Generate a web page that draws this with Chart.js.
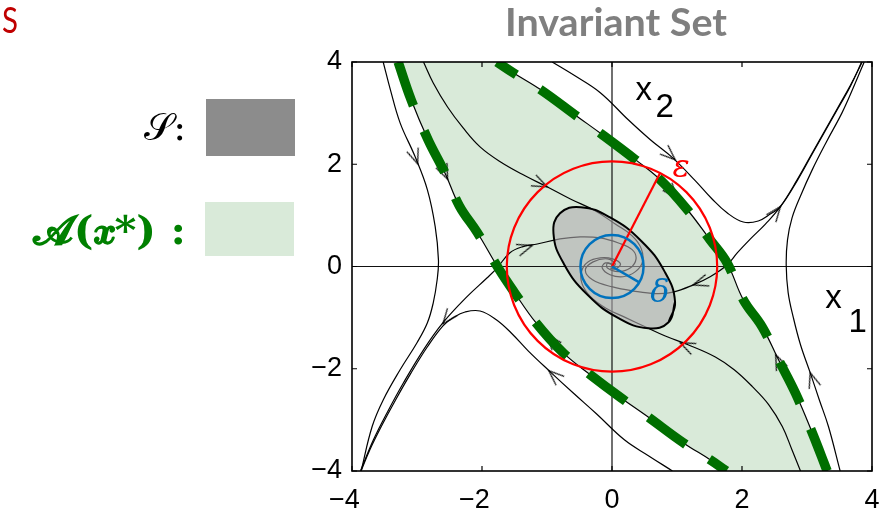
<!DOCTYPE html>
<html><head><meta charset="utf-8">
<script src="https://cdn.jsdelivr.net/npm/chart.js@4/dist/chart.umd.min.js"></script>
<style>html,body{margin:0;padding:0;background:#fff;}canvas{display:block;}</style>
</head><body>
<canvas id="c" width="895" height="513"></canvas>
<script>
// ---------- data ----------
const xTicks = [-4, -2, 0, 2, 4];
const yTicks = [-4, -2, 0, 2, 4];

// separatrices (boundary of the region of attraction)
const sepRightX = [-1.77,-1.52,-1.10,-0.53,-0.15,0.36,0.74,1.16,1.51,1.77,2.02,2.31,2.56,2.82,3.08,3.31];
const sepRightY = [4.00,3.79,3.46,2.93,2.58,2.09,1.70,1.11,0.52,0.07,-0.65,-1.18,-1.82,-2.47,-3.25,-4.00];
const sepLeftX  = [-3.29,-3.09,-2.83,-2.57,-2.35,-2.07,-1.75,-1.50,-1.17,-0.75,-0.33,0.14,0.53,1.10,1.51,1.76];
const sepLeftY  = [4.00,3.26,2.48,1.83,1.19,0.66,-0.03,-0.51,-1.10,-1.69,-2.12,-2.57,-2.92,-3.45,-3.78,-4.00];

// trajectories
const farLeftX  = [-3.52,-3.41,-3.26,-3.03,-2.84,-2.72,-2.67,-2.69,-2.75,-2.84,-3.00,-3.26,-3.52,-3.69,-3.86];
const farLeftY  = [4.00,3.46,2.81,2.15,1.50,0.78,0.13,-0.26,-0.71,-1.10,-1.49,-2.02,-2.61,-3.13,-4.00];
const farRightX = [3.51,3.33,3.19,3.05,2.90,2.79,2.71,2.68,2.70,2.77,2.90,3.08,3.30,3.54,3.71,3.88];
const farRightY = [-4.00,-3.13,-2.61,-2.08,-1.53,-1.00,-0.51,0.03,0.52,0.95,1.38,1.89,2.44,3.01,3.49,4.00];
const leftManX  = [-3.87,-3.67,-3.46,-3.21,-2.90,-2.60,-2.23,-1.92,-1.77,-1.57,-1.37,-1.15,-0.80,-0.49,-0.18,0.10,0.31,0.37,0.28,0.10,-0.07,-0.07,0.00];
const leftManY  = [-4.00,-3.39,-2.86,-2.28,-1.63,-1.10,-0.59,-0.22,-0.03,0.27,0.39,0.44,0.54,0.58,0.56,0.46,0.33,0.15,-0.03,-0.10,-0.03,0.07,0.05];
const rightManX = [3.85,3.67,3.48,3.28,3.08,2.85,2.59,2.36,2.13,1.93,1.77,1.51,1.25,0.94,0.67,0.33,0.01,-0.30,-0.41,-0.29,-0.07,0.05,0.01];
const rightManY = [4.00,3.55,3.12,2.67,2.22,1.70,1.17,0.83,0.54,0.27,0.03,-0.20,-0.36,-0.50,-0.53,-0.48,-0.40,-0.26,-0.07,0.09,0.15,0.05,-0.01];
const upperOrbitX = [-0.92,-0.57,-0.18,0.25,0.59,0.93,1.28,1.54,1.77,2.02,2.25,2.44,2.59,2.85,3.08,3.28,3.48,3.67,3.84];
const upperOrbitY = [4.00,3.73,3.40,2.87,2.48,2.13,1.68,1.32,1.05,0.87,0.89,1.03,1.17,1.68,2.20,2.65,3.10,3.53,4.00];
const lowerOrbitX = [0.93,0.56,0.19,-0.24,-0.60,-0.95,-1.29,-1.55,-1.78,-2.03,-2.26,-2.44,-2.60,-2.84,-3.10,-3.33,-3.55,-3.72,-3.86];
const lowerOrbitY = [-4.00,-3.70,-3.39,-2.88,-2.47,-2.06,-1.65,-1.30,-1.04,-0.87,-0.89,-1.00,-1.16,-1.57,-2.10,-2.61,-3.13,-3.57,-4.00];
const upperInnerX = [-2.90,-2.75,-2.53,-2.29,-2.03,-1.72,-1.33,-1.00,-0.64,-0.26,0.05,0.31,0.45,0.47,0.36,0.17,-0.03,-0.15,-0.10,0.02];
const upperInnerY = [4.00,3.59,3.12,2.71,2.34,2.05,1.77,1.56,1.32,1.09,0.83,0.60,0.35,0.09,-0.10,-0.20,-0.16,-0.03,0.07,0.03];
const lowerInnerX = [2.90,2.77,2.62,2.41,2.16,1.88,1.59,1.17,0.82,0.51,0.21,-0.10,-0.33,-0.46,-0.47,-0.37,-0.18,0.01,0.13,0.05,-0.03];
const lowerInnerY = [-4.00,-3.59,-3.13,-2.70,-2.35,-2.02,-1.77,-1.53,-1.36,-1.18,-1.00,-0.81,-0.59,-0.34,-0.10,0.09,0.17,0.15,0.05,-0.05,-0.03];

// arrow heads on the trajectories (tip position, direction in screen degrees)
const arrowX     = [-2.99,-2.53,-1.00,-1.23,1.00,0.97,2.59,1.25,3.05,2.52,1.05,-0.97,-1.00,-2.60];
const arrowY     = [2.01,1.71,1.56,0.41,1.34,2.09,1.17,-0.36,-2.08,-1.73,-1.49,-2.04,-1.34,-1.12];
const arrowAngle = [70,66,25,-18,50,42,-52,162,-108,-114,-155,-138,-130,128];

// invariant set S (ellipse boundary)
const ellipseX = [0.87,0.97,0.81,0.45,-0.03,-0.48,-0.80,-0.90,-0.74,-0.38,0.10,0.56,0.87,0.97];
const ellipseY = [-1.09,-0.69,-0.10,0.50,0.96,1.16,1.04,0.64,0.05,-0.55,-1.01,-1.21,-1.09,-0.69];

// equilibrium, epsilon and delta radii
const origin = [0, 0];
const epsEnd = [0.74, 1.83];
const deltaEnd = [0.42, -0.31];

// ---------- helpers ----------
const pts = (xs, ys) => xs.map((x, i) => ({x: x, y: ys[i]}));
const base = {type: 'line', borderColor: '#000', borderWidth: 1.2, pointRadius: 0, tension: 0.4, fill: false, clip: 0};
const line = (xs, ys, extra) => Object.assign({}, base, {data: pts(xs, ys)}, extra || {});

const arrowImg = (() => {
  const c = document.createElement('canvas'); c.width = 32; c.height = 32;
  const g = c.getContext('2d');
  g.strokeStyle = '#000'; g.lineWidth = 1.3; g.lineJoin = 'miter';
  g.beginPath(); g.moveTo(16 - 15, 16 - 6); g.lineTo(16, 16); g.lineTo(16 - 15, 16 + 6); g.stroke();
  return c;
})();

function radiusTo(end) {
  return ctx => {
    const s = ctx.chart.scales;
    if (!s || !s.x || !s.y) return 0;
    const dx = s.x.getPixelForValue(end[0]) - s.x.getPixelForValue(origin[0]);
    const dy = s.y.getPixelForValue(end[1]) - s.y.getPixelForValue(origin[1]);
    return Math.hypot(dx, dy);
  };
}

const fillX = sepRightX.concat(sepLeftX.slice().reverse());
const fillY = sepRightY.concat(sepLeftY.slice().reverse());
const xMin = xTicks[0], xMax = xTicks[xTicks.length - 1];
const yMin = yTicks[0], yMax = yTicks[yTicks.length - 1];

const GREEN = '#006f00';
const datasets = [
  line(fillX, fillY, {fill: 'shape', backgroundColor: '#d9ead9', borderColor: 'rgba(0,0,0,0)', borderWidth: 0, order: 100}),
  line([xMin, xMax], [0, 0], {tension: 0, borderColor: '#111', borderWidth: 1.2, order: 90}),
  line([0, 0], [yMin, yMax], {tension: 0, borderColor: '#111', borderWidth: 1.2, order: 90}),
  line(sepRightX, sepRightY, {order: 80}),
  line(sepLeftX, sepLeftY, {order: 80}),
  line(farLeftX, farLeftY, {order: 80}),
  line(farRightX, farRightY, {order: 80}),
  line(leftManX, leftManY, {order: 80}),
  line(rightManX, rightManY, {order: 80}),
  line(upperOrbitX, upperOrbitY, {order: 80}),
  line(lowerOrbitX, lowerOrbitY, {order: 80}),
  line(upperInnerX, upperInnerY, {order: 80}),
  line(lowerInnerX, lowerInnerY, {order: 80}),
  Object.assign({}, base, {data: pts(arrowX, arrowY), showLine: false, pointRadius: 10, pointStyle: arrowImg, pointRotation: arrowAngle, order: 75}),
  line(ellipseX, ellipseY, {fill: 'shape', backgroundColor: 'rgba(175,171,175,0.6)', borderColor: '#000', borderWidth: 2, tension: 0.45, order: 60}),
  line(sepLeftX, sepLeftY, {borderColor: GREEN, borderWidth: 9.5, borderDash: [46, 28], borderDashOffset: 0, borderCapStyle: 'butt', order: 50}),
  line(sepRightX, sepRightY, {borderColor: GREEN, borderWidth: 9.5, borderDash: [46, 28], borderDashOffset: 23, borderCapStyle: 'butt', order: 50}),
  Object.assign({}, base, {data: [{x: origin[0], y: origin[1]}], showLine: false, pointStyle: 'circle', pointRadius: radiusTo(epsEnd), pointBorderColor: '#ff0000', pointBackgroundColor: 'rgba(0,0,0,0)', pointBorderWidth: 2.2, order: 40}),
  line([origin[0], epsEnd[0]], [origin[1], epsEnd[1]], {tension: 0, borderColor: '#ff0000', borderWidth: 2.2, order: 40}),
  Object.assign({}, base, {data: [{x: origin[0], y: origin[1]}], showLine: false, pointStyle: 'circle', pointRadius: radiusTo(deltaEnd), pointBorderColor: '#0072bd', pointBackgroundColor: 'rgba(0,0,0,0)', pointBorderWidth: 2.5, order: 30}),
  line([origin[0], deltaEnd[0]], [origin[1], deltaEnd[1]], {tension: 0, borderColor: '#0072bd', borderWidth: 2.5, order: 30})
];

const TICK_FONT = {family: '"Liberation Sans", Arial, sans-serif', size: 27};
const minus = v => v < 0 ? '\u2212' + (-v) : String(v);

const decor = {
  id: 'decor',
  afterDraw(chart) {
    const ctx = chart.ctx, a = chart.chartArea, sx = chart.scales.x, sy = chart.scales.y;
    ctx.save();
    // frame
    ctx.strokeStyle = '#000'; ctx.lineWidth = 1.6;
    ctx.strokeRect(a.left, a.top, a.right - a.left, a.bottom - a.top);
    // inward ticks on all sides
    ctx.lineWidth = 1.2;
    ctx.beginPath();
    xTicks.forEach(v => { const p = sx.getPixelForValue(v); ctx.moveTo(p, a.bottom); ctx.lineTo(p, a.bottom - 5); ctx.moveTo(p, a.top); ctx.lineTo(p, a.top + 5); });
    yTicks.forEach(v => { const p = sy.getPixelForValue(v); ctx.moveTo(a.left, p); ctx.lineTo(a.left + 5, p); ctx.moveTo(a.right, p); ctx.lineTo(a.right - 5, p); });
    ctx.stroke();

    function scaled(txt, font, color, x, y, w, align) {
      ctx.save(); ctx.font = font; ctx.fillStyle = color; ctx.textAlign = 'left'; ctx.textBaseline = 'alphabetic';
      const m = ctx.measureText(txt).width, k = w / m;
      const x0 = align === 'center' ? x - w / 2 : (align === 'right' ? x - w : x);
      ctx.translate(x0, y); ctx.scale(k, 1); ctx.fillText(txt, 0, 0); ctx.restore();
    }
    // title and corner letter
    scaled('Invariant Set', 'bold 39px Lato, "Open Sans", sans-serif', '#7f7f7f', 616, 36, 222, 'center');
    scaled('S', '36px Lato, "Open Sans", sans-serif', '#c00000', 2, 33, 16, 'left');

    // legend
    ctx.fillStyle = '#8c8c8c'; ctx.fillRect(206, 99, 89, 57);
    ctx.fillStyle = '#d9ead9'; ctx.fillRect(205, 202, 89, 54);
    ctx.textBaseline = 'alphabetic';
    ctx.fillStyle = '#000';
    scaled('\u{1D4AE}:', '38px "DejaVu Serif", serif', '#000', 186, 140, 42, 'right');
    scaled('\u{1D4D0}(\u{1D499}*) :', 'bold 40px "DejaVu Serif", serif', '#008000', 186, 244, 153, 'right');

    // in-plot labels
    const P = (x, y) => [sx.getPixelForValue(x), sy.getPixelForValue(y)];
    ctx.textAlign = 'left'; ctx.fillStyle = '#000';
    ctx.font = '33px "Liberation Sans", Arial, sans-serif';
    [['x', 0.36, 3.26], ['2', 0.67, 2.93], ['x', 3.28, -0.81], ['1', 3.64, -1.28]].forEach(l => { const p = P(l[1], l[2]); ctx.fillText(l[0], p[0], p[1]); });
    ctx.font = 'italic 32px "DejaVu Serif", serif';
    ctx.fillStyle = '#ff0000'; let p = P(0.93, 1.75); ctx.fillText('\u03B5', p[0], p[1]);
    ctx.fillStyle = '#0072bd'; p = P(0.59, -0.69); ctx.fillText('\u03B4', p[0], p[1]);
    ctx.restore();
  }
};

new Chart(document.getElementById('c'), {
  type: 'line',
  data: {datasets: datasets},
  options: {
    responsive: false, animation: false, events: [],
    layout: {padding: {left: 0, right: 23, top: 62, bottom: 0}},
    plugins: {legend: {display: false}, tooltip: {enabled: false}, title: {display: false}},
    scales: {
      x: {type: 'linear', min: xMin, max: xMax,
          afterBuildTicks: s => { s.ticks = xTicks.map(v => ({value: v})); },
          afterFit: s => { s.height = 42; },
          grid: {display: false, drawTicks: false}, border: {display: false},
          ticks: {font: TICK_FONT, color: '#000', padding: 13, maxRotation: 0, autoSkip: false,
                  callback: v => v < 0 ? minus(v) + '\u2007' : String(v)}},
      y: {type: 'linear', min: yMin, max: yMax,
          afterBuildTicks: s => { s.ticks = yTicks.map(v => ({value: v})); },
          afterFit: s => { s.width = 352; },
          grid: {display: false, drawTicks: false}, border: {display: false},
          ticks: {font: TICK_FONT, color: '#000', padding: 10, autoSkip: false, callback: v => minus(v)}}
    }
  },
  plugins: [decor]
});
</script>
</body></html>
